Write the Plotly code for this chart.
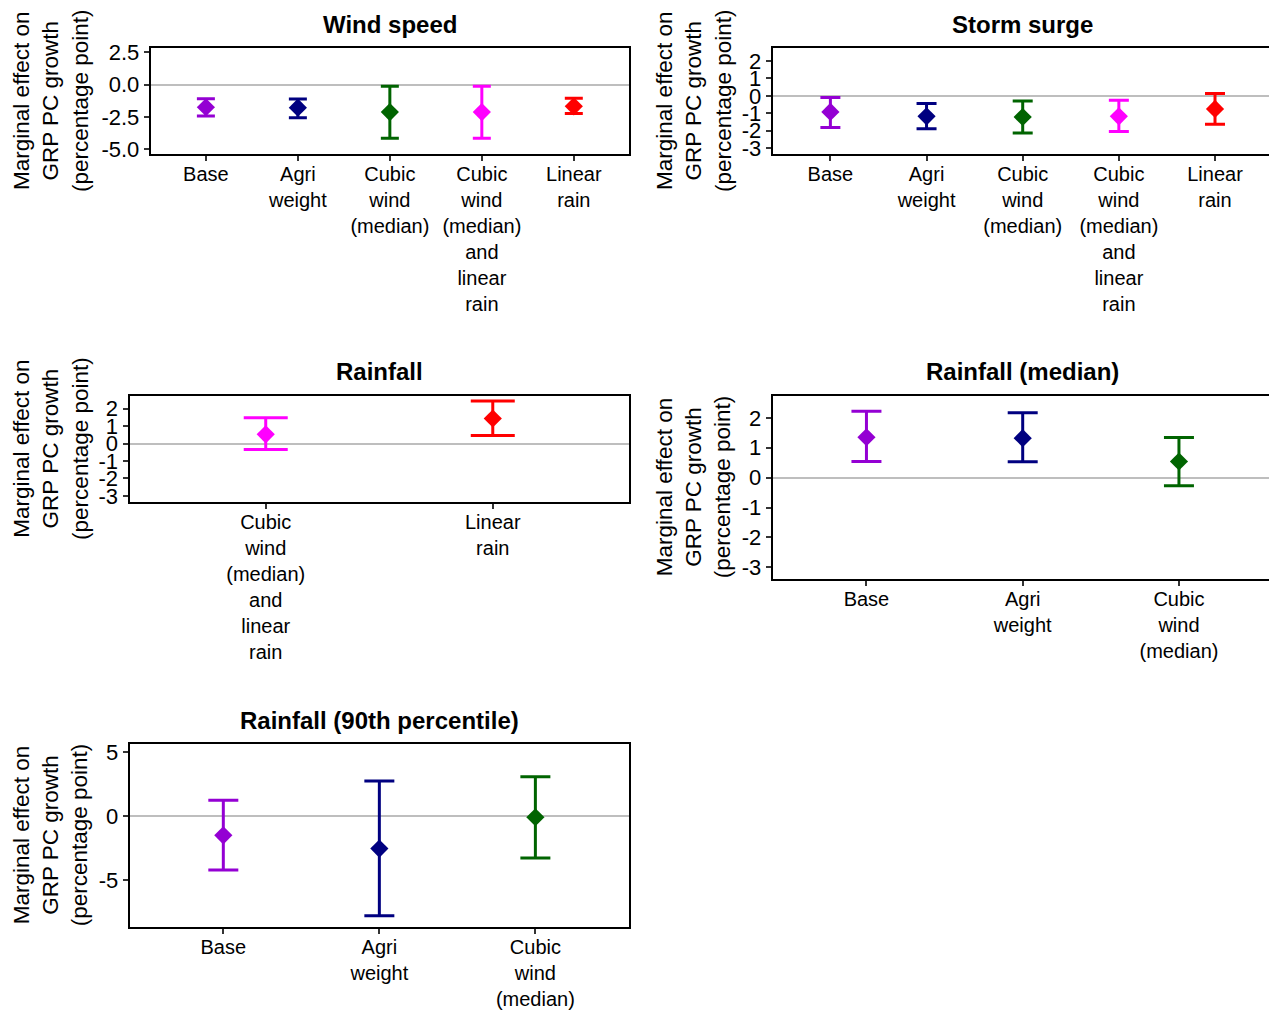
import plotly.graph_objects as go

# ---- data: point estimates and 95% interval bounds per model ----
wind_models = ["Base", "Agri weight", "Cubic wind (median)",
               "Cubic wind (median) and linear rain", "Linear rain"]
wind_est = [-1.75, -1.78, -2.12, -2.12, -1.68]
wind_lo = [-2.42, -2.55, -4.13, -4.13, -2.24]
wind_hi = [-1.09, -1.11, -0.13, -0.13, -1.06]
wind_ticks = [-5.0, -2.5, 0.0, 2.5]

surge_models = ["Base", "Agri weight", "Cubic wind (median)",
                "Cubic wind (median) and linear rain", "Linear rain"]
surge_est = [-0.92, -1.17, -1.21, -1.17, -0.75]
surge_lo = [-1.81, -1.88, -2.13, -2.04, -1.62]
surge_hi = [-0.09, -0.44, -0.29, -0.25, 0.14]
surge_ticks = [-3, -2, -1, 0, 1, 2]

rain_models = ["Cubic wind (median) and linear rain", "Linear rain"]
rain_est = [0.53, 1.44]
rain_lo = [-0.34, 0.46]
rain_hi = [1.49, 2.45]
rain_ticks = [-3, -2, -1, 0, 1, 2]

rainmed_models = ["Base", "Agri weight", "Cubic wind (median)"]
rainmed_est = [1.35, 1.32, 0.54]
rainmed_lo = [0.54, 0.53, -0.27]
rainmed_hi = [2.22, 2.17, 1.34]
rainmed_ticks = [-3, -2, -1, 0, 1, 2]

rain90_models = ["Base", "Agri weight", "Cubic wind (median)"]
rain90_est = [-1.51, -2.55, -0.10]
rain90_lo = [-4.22, -7.79, -3.28]
rain90_hi = [1.23, 2.73, 3.07]
rain90_ticks = [-5, 0, 5]

# ---- styling ----
MODEL_COLORS = {
    "Base": "#9400D3",
    "Agri weight": "#000080",
    "Cubic wind (median)": "#006400",
    "Cubic wind (median) and linear rain": "#FF00FF",
    "Linear rain": "#FF0000",
}
W, H = 1269, 1010
FONT = "Liberation Sans, Arial, sans-serif"
YTITLE = "Marginal effect on<br>GRP PC growth<br>(percentage point)"

# panel boxes in pixels: (left, right, top, bottom)
panels = [
    dict(title="Wind speed", models=wind_models, est=wind_est, lo=wind_lo, hi=wind_hi,
         ticks=wind_ticks, fmt="{:.1f}", box=(150.7, 629, 48, 154), yr=(-5.35, 2.81),
         cap=9, right_open=False, ytitle_x=51),
    dict(title="Storm surge", models=surge_models, est=surge_est, lo=surge_lo, hi=surge_hi,
         ticks=surge_ticks, fmt="{:d}", box=(772.7, 1269, 48, 154), yr=(-3.33, 2.74),
         cap=10, right_open=True, ytitle_x=694),
    dict(title="Rainfall", models=rain_models, est=rain_est, lo=rain_lo, hi=rain_hi,
         ticks=rain_ticks, fmt="{:d}", box=(129.5, 629, 395.5, 502.3), yr=(-3.37, 2.76),
         cap=22, right_open=False, ytitle_x=51),
    dict(title="Rainfall (median)", models=rainmed_models, est=rainmed_est, lo=rainmed_lo,
         hi=rainmed_hi, ticks=rainmed_ticks, fmt="{:d}", box=(772.7, 1269, 395.7, 579),
         yr=(-3.39, 2.74), cap=15, right_open=True, ytitle_x=694),
    dict(title="Rainfall (90th percentile)", models=rain90_models, est=rain90_est,
         lo=rain90_lo, hi=rain90_hi, ticks=rain90_ticks, fmt="{:d}",
         box=(129.7, 629, 744, 926.7), yr=(-8.65, 5.62), cap=15, right_open=False,
         ytitle_x=51),
]

# right-hand panels run past the page edge; this is where their frame would end
OPEN_RIGHT = 1272.7

fig = go.Figure()
annotations = []

for i, p in enumerate(panels, start=1):
    xa = "x" if i == 1 else f"x{i}"
    ya = "y" if i == 1 else f"y{i}"
    left, right, top, bottom = p["box"]
    n = len(p["models"])
    if p["right_open"]:
        step = (OPEN_RIGHT - left) / (n + 0.2)
        xmax = -0.6 + (right - left) / step
        full_right = OPEN_RIGHT
    else:
        xmax = n - 0.4
        full_right = right

    for m, e, lo, hi in zip(p["models"], p["est"], p["lo"], p["hi"]):
        c = MODEL_COLORS[m]
        fig.add_trace(go.Scatter(
            x=[m], y=[e], mode="markers", xaxis=xa, yaxis=ya, showlegend=False,
            marker=dict(symbol="diamond", size=14, color=c),
            error_y=dict(type="data", symmetric=False, array=[hi - e],
                         arrayminus=[e - lo], color=c, thickness=3, width=p["cap"]),
        ))

    xd = [left / W, right / W]
    yd = [1 - bottom / H, 1 - top / H]
    ticktext = ["<br>".join(m.split()) for m in p["models"]]
    fig.update_layout(**{
        ("xaxis" if i == 1 else f"xaxis{i}"): dict(
            domain=xd, anchor=ya, type="category", categoryorder="array",
            categoryarray=p["models"], range=[-0.6, xmax],
            tickvals=p["models"], ticktext=ticktext, automargin=False,
            showline=True, linecolor="black", linewidth=2, mirror=True,
            ticks="outside", ticklen=5, tickwidth=1.5, tickcolor="#333333",
            ticklabelstandoff=-4,
            showgrid=False, zeroline=False,
            tickfont=dict(family=FONT, size=20, color="black"),
        ),
        ("yaxis" if i == 1 else f"yaxis{i}"): dict(
            domain=yd, anchor=xa, range=list(p["yr"]), automargin=False,
            tickvals=p["ticks"], ticktext=[p["fmt"].format(t) for t in p["ticks"]],
            showline=True, linecolor="black", linewidth=2,
            mirror=not p["right_open"],
            ticks="outside", ticklen=5, tickwidth=1.5, tickcolor="#333333",
            showgrid=False, zeroline=True, zerolinecolor="#BEBEBE", zerolinewidth=1.6,
            tickfont=dict(family=FONT, size=22, color="black"),
        ),
    })

    # panel title
    annotations.append(dict(
        text=f"<b>{p['title']}</b>", xref="paper", yref="paper",
        x=(left + full_right) / 2 / W,
        y=1 - (top - 24) / H, xanchor="center", yanchor="middle", showarrow=False,
        font=dict(family=FONT, size=24, color="black"),
    ))
    # y-axis title
    annotations.append(dict(
        text=YTITLE, xref="paper", yref="paper", x=p["ytitle_x"] / W,
        y=1 - (top + bottom) / 2 / H, xanchor="center", yanchor="middle",
        textangle=-90, showarrow=False, align="center",
        font=dict(family=FONT, size=22.5, color="black"),
    ))

fig.update_layout(
    width=W, height=H, margin=dict(l=0, r=0, t=0, b=0, autoexpand=False),
    paper_bgcolor="white", plot_bgcolor="white",
    annotations=annotations,
)

# the figure has a fixed pixel size, so drop the page's default body margin
fig.write_html(
    "out.html",
    post_script="document.body.style.margin='0';document.body.style.overflow='hidden';",
)
